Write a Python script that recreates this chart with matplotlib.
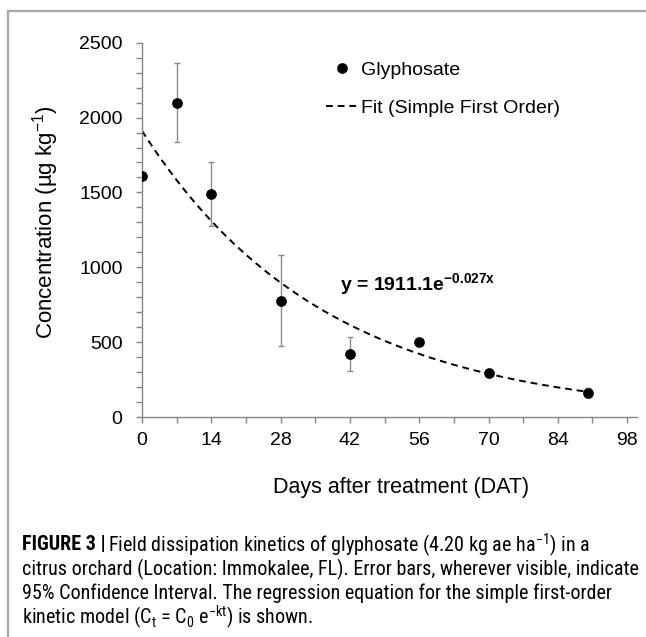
import matplotlib
matplotlib.use("Agg")
import matplotlib.pyplot as plt
from matplotlib import font_manager
from matplotlib.lines import Line2D
from matplotlib.ticker import MultipleLocator
import numpy as np

# values
days = [0, 7, 14, 28, 42, 56, 70, 90]
conc = [1610, 2100, 1488, 778, 422, 500, 297, 162]
ci95 = [0, 265, 214, 303, 115, 0, 0, 30]

# simple first order fit  y = 1911.1 e^(-0.027 x)
c0 = 1911.1
k = 0.027
fit_x = np.linspace(0, 90, 200)
fit_y = c0 * np.exp(-k * fit_x)

x_ticks = [0, 14, 28, 42, 56, 70, 84, 98]
y_ticks = [0, 500, 1000, 1500, 2000, 2500]

caption = [
    r"Field dissipation kinetics of glyphosate (4.20 kg ae ha$^{\mathregular{-1}}$) in a",
    "citrus orchard (Location: Immokalee, FL). Error bars, wherever visible, indicate",
    "95% Confidence Interval. The regression equation for the simple first-order",
    r"kinetic model (C$_{\mathregular{t}}$ = C$_{\mathregular{0}}$ e$^{\mathregular{-kt}}$) is shown.",
]

W, H = 646, 637
plt.rcParams['font.family'] = ['Liberation Sans', 'DejaVu Sans']
plt.rcParams['mathtext.fontset'] = 'custom'
plt.rcParams['mathtext.rm'] = 'Liberation Sans'
plt.rcParams['mathtext.bf'] = 'Liberation Sans:bold'
plt.rcParams['mathtext.it'] = 'Liberation Sans:italic'

# the caption uses a condensed face; take one if the system has it
installed = {f.name for f in font_manager.fontManager.ttflist}
cap_family = 'Liberation Sans'
for name in ['Liberation Sans Narrow', 'Roboto Condensed', 'Open Sans Condensed',
             'DejaVu Sans Condensed', 'Noto Sans Condensed']:
    if name in installed:
        cap_family = name
        break
cap_font = [cap_family, 'Liberation Sans']

fig = plt.figure(figsize=(W / 100, H / 100), dpi=100)

def fx(x):
    return x / W

def fy(y):
    return 1 - y / H

# frame lines around the figure panel
border = '#a8a8a8'
fig.add_artist(Line2D([fx(8), 1], [fy(11), fy(11)], color=border, lw=1.6))
fig.add_artist(Line2D([fx(8), fx(8)], [fy(11), 0], color=border, lw=1.6))

ax = fig.add_axes([fx(142), fy(417), (637 - 142) / W, (417 - 42.7) / H])
grey = '#858585'

ax.errorbar(days, conc, yerr=ci95, fmt='none', ecolor='#8a8a8a',
            elinewidth=1, capsize=2.3, capthick=1, zorder=2)
ax.plot(days, conc, 'o', color='black', markersize=6.7, zorder=3)
ax.plot(fit_x, fit_y, color='black', lw=1.4, ls=(0, (3.5, 2.5)), zorder=2)

ax.set_xlim(0, 100)
ax.set_ylim(0, 2500)
ax.set_xticks(x_ticks)
ax.set_yticks(y_ticks)
ax.xaxis.set_minor_locator(MultipleLocator(7))
ax.yaxis.set_minor_locator(MultipleLocator(100))

for s in ['top', 'right']:
    ax.spines[s].set_visible(False)
for s in ['left', 'bottom']:
    ax.spines[s].set_color(grey)
    ax.spines[s].set_linewidth(1)
ax.tick_params(which='both', direction='out', length=4, width=1, color=grey)
ax.tick_params(axis='both', labelsize=14, labelcolor='black')
ax.tick_params(axis='x', pad=7)
ax.tick_params(axis='y', pad=10)

ax.text(40, 850, r'y = 1911.1e$^{\mathbf{-0.027x}}$', fontweight='bold', fontsize=14)

handles = [
    Line2D([], [], marker='o', ls='none', color='black', markersize=6.7),
    Line2D([], [], color='black', lw=1.4, ls=(0, (3.5, 2.5))),
]
fig.legend(handles, ['Glyphosate', 'Fit (Simple First Order)'],
           loc='upper left', bbox_to_anchor=(fx(326), fy(61)),
           frameon=False, fontsize=14, handlelength=1.6, handletextpad=0.2,
           labelspacing=1.05, borderpad=0, borderaxespad=0)

fig.text(fx(401), fy(488), 'Days after treatment (DAT)', ha='center', va='center',
         fontsize=15.5)
fig.text(fx(46), fy(222), r'Concentration (µg kg$^{\mathregular{-1}}$)', ha='center',
         va='center', rotation=90, fontsize=16)

# caption, sized so the second line fills the panel width
renderer = fig.canvas.get_renderer()
probe = fig.text(0, 0, caption[1], fontsize=12, family=cap_font)
w = probe.get_window_extent(renderer).width
probe.remove()
cap_size = 12 * 616 / w

line_y = [545, 569, 593, 617]
x0 = fx(22)
head = fig.text(x0, fy(line_y[0]), 'FIGURE 3 |', fontsize=cap_size, family=cap_font,
                fontweight='bold', va='center')
hw = head.get_window_extent(renderer).width
fig.text(x0 + (hw + 2) / W, fy(line_y[0]), caption[0], fontsize=cap_size,
         family=cap_font, va='center')
for txt, yy in zip(caption[1:], line_y[1:]):
    fig.text(x0, fy(yy), txt, fontsize=cap_size, family=cap_font, va='center')

fig.savefig('out.png', dpi=100)
